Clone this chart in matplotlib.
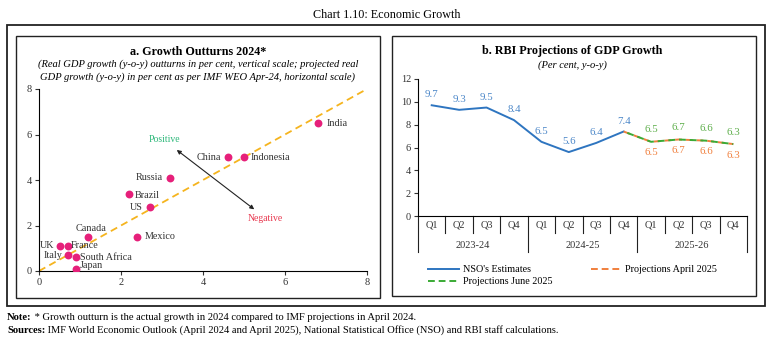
import matplotlib
matplotlib.use('Agg')
import matplotlib.pyplot as plt
from matplotlib.patches import Rectangle
from matplotlib.lines import Line2D
import matplotlib.transforms as mtransforms

plt.rcParams['font.family'] = ['Liberation Serif', 'DejaVu Serif']

# ---- panel a data: IMF projection (x) vs actual outturn (y) ----
countries = ['India', 'China', 'Indonesia', 'Russia', 'Brazil', 'US', 'Mexico',
             'Canada', 'UK', 'France', 'Italy', 'South Africa', 'Japan']
proj_2024 = [6.8, 4.6, 5.0, 3.2, 2.2, 2.7, 2.4, 1.2, 0.5, 0.7, 0.7, 0.9, 0.9]
actual_2024 = [6.5, 5.0, 5.0, 4.1, 3.4, 2.8, 1.5, 1.5, 1.1, 1.1, 0.7, 0.6, 0.1]

# ---- panel b data ----
quarters = ['Q1', 'Q2', 'Q3', 'Q4'] * 3
years = ['2023-24', '2024-25', '2025-26']
nso = [9.7, 9.3, 9.5, 8.4, 6.5, 5.6, 6.4, 7.4]
proj_apr25 = [7.4, 6.5, 6.7, 6.6, 6.3]
proj_jun25 = [7.4, 6.5, 6.7, 6.6, 6.3]

W, H = 774, 340
fig = plt.figure(figsize=(W / 100, H / 100), dpi=100)

def fx(px):
    return px / W

def fy(py):
    return 1 - py / H

def frame(x0, y0, x1, y1, lw=1.0):
    fig.patches.append(Rectangle((fx(x0), fy(y1)), fx(x1) - fx(x0), fy(y0) - fy(y1),
                                 transform=fig.transFigure, fill=False,
                                 edgecolor='#222222', lw=lw))

frame(7, 25, 765, 306, lw=1.3)
frame(16, 36, 380, 298)
frame(392, 36, 756, 296)

fig.text(0.5, fy(15), 'Chart 1.10: Economic Growth', ha='center', va='center', fontsize=8.7)

# ================= panel a =================
axa = fig.add_axes([fx(39), fy(271), fx(367) - fx(39), fy(89) - fy(271)])
axa.plot([0, 8], [0, 8], ls=(0, (4, 2.5)), color='#F5B41E', lw=1.3, zorder=1)
axa.scatter(proj_2024, actual_2024, s=32, color='#E6207A', zorder=3, lw=0)

# label offsets (points)
offsets = {
    'India': (6, 0, 'left'), 'China': (-5, 0, 'right'), 'Indonesia': (5, 0, 'left'),
    'Russia': (-5, 0, 'right'), 'Brazil': (4, -1.5, 'left'), 'US': (-5, 0, 'right'),
    'Mexico': (5, 0, 'left'), 'Canada': (2, 6, 'center'), 'UK': (-4, 0, 'right'),
    'France': (2, 0, 'left'), 'Italy': (-4, 0, 'right'), 'South Africa': (3, 0, 'left'),
    'Japan': (3, 2.5, 'left'),
}
for c, xv, yv in zip(countries, proj_2024, actual_2024):
    dx, dy, ha = offsets[c]
    axa.annotate(c, (xv, yv), xytext=(dx, dy), textcoords='offset points',
                 ha=ha, va='center', fontsize=7.3, color='#333333')

axa.annotate('', xy=(3.36, 5.32), xytext=(5.25, 2.71),
             arrowprops=dict(arrowstyle='<|-|>', color='#222222', lw=0.8,
                             mutation_scale=6, shrinkA=0, shrinkB=0))
axa.text(3.05, 5.76, 'Positive', color='#2DB87A', fontsize=7, ha='center', va='center')
axa.text(5.53, 2.3, 'Negative', color='#E8384F', fontsize=7, ha='center', va='center')

axa.set_xlim(0, 8)
axa.set_ylim(0, 8)
axa.set_xticks([0, 2, 4, 6, 8])
axa.set_yticks([0, 2, 4, 6, 8])
for s in ['top', 'right']:
    axa.spines[s].set_visible(False)
for s in ['left', 'bottom']:
    axa.spines[s].set_linewidth(0.8)
axa.tick_params(labelsize=7.5, length=3, width=0.8, colors='#333333', pad=2)
axa.patch.set_alpha(0)

fig.text(fx(198), fy(52), 'a. Growth Outturns 2024*', ha='center', va='center',
         fontsize=8.7, fontweight='bold')
fig.text(fx(198), fy(64.5), '(Real GDP growth (y-o-y) outturns in per cent, vertical scale; projected real',
         ha='center', va='center', fontsize=7.6, style='italic')
fig.text(fx(198), fy(77), 'GDP growth (y-o-y) in per cent as per IMF WEO Apr-24, horizontal scale)',
         ha='center', va='center', fontsize=7.6, style='italic')

# ================= panel b =================
axb = fig.add_axes([fx(418), fy(216), fx(747) - fx(418), fy(79) - fy(216)])
xs_nso = list(range(len(nso)))
xs_proj = list(range(len(nso) - 1, len(nso) - 1 + len(proj_apr25)))

blue, orange, green = '#2E75C0', '#F07F3C', '#3AAA35'
axb.plot(xs_nso, nso, color=blue, lw=1.4)
axb.plot(xs_proj, proj_apr25, color=orange, lw=1.4, ls=(0, (3.5, 2)))
axb.plot(xs_proj, proj_jun25, color=green, lw=1.4, ls=(3.5, (3.5, 2)))

for xv, yv in zip(xs_nso, nso):
    axb.annotate(f'{yv:.1f}', (xv, yv), xytext=(0, 7.5), textcoords='offset points',
                 ha='center', va='center', fontsize=7.8, color='#4A86C8')
for xv, yv in zip(xs_proj[1:], proj_jun25[1:]):
    axb.annotate(f'{yv:.1f}', (xv, yv), xytext=(0, 8.5), textcoords='offset points',
                 ha='center', va='center', fontsize=7.8, color='#5DAE4A')
for xv, yv in zip(xs_proj[1:], proj_apr25[1:]):
    axb.annotate(f'{yv:.1f}', (xv, yv), xytext=(0, -8), textcoords='offset points',
                 ha='center', va='center', fontsize=7.8, color=orange)

axb.set_xlim(-0.5, len(quarters) - 0.5)
axb.set_ylim(0, 12)
axb.set_yticks(range(0, 13, 2))
axb.set_xticks([])
for s in ['top', 'right']:
    axb.spines[s].set_visible(False)
for s in ['left', 'bottom']:
    axb.spines[s].set_linewidth(0.8)
axb.tick_params(axis='y', labelsize=7.5, length=3, width=0.8, colors='#333333', pad=2)

# multi-level category axis
trans = mtransforms.blended_transform_factory(axb.transData, axb.transAxes)
ah = 216 - 79
q_depth = -17 / ah
y_depth = -36 / ah
for i in range(len(quarters) + 1):
    b = i - 0.5
    depth = y_depth if i % 4 == 0 else q_depth
    axb.plot([b, b], [0, depth], color='#222222', lw=0.8, transform=trans, clip_on=False)
for i, q in enumerate(quarters):
    axb.text(i, -9 / ah, q, transform=trans, ha='center', va='center', fontsize=7.5, color='#333333')
for j, yr in enumerate(years):
    axb.text(4 * j + 1.5, -29 / ah, yr, transform=trans, ha='center', va='center',
             fontsize=7.5, color='#333333')

handles = [Line2D([], [], color=blue, lw=1.4),
           Line2D([], [], color=green, lw=1.4, ls=(0, (3.5, 2))),
           Line2D([], [], color=orange, lw=1.4, ls=(0, (3.5, 2)))]
labels = ["NSO's Estimates", 'Projections June 2025', 'Projections April 2025']
fig.legend(handles, labels, ncol=2, loc='upper left', bbox_to_anchor=(fx(421), fy(258)),
           frameon=False, fontsize=7.3, handlelength=3, handletextpad=0.4,
           columnspacing=3.8, labelspacing=0.3, borderpad=0.2)

fig.text(fx(572), fy(51), 'b. RBI Projections of GDP Growth', ha='center', va='center',
         fontsize=8.7, fontweight='bold')
fig.text(fx(572), fy(65), '(Per cent, y-o-y)', ha='center', va='center',
         fontsize=7.6, style='italic')

# ---- notes (bold lead-in, then regular text right after it) ----
notes = [('Note:', ' * Growth outturn is the actual growth in 2024 compared to IMF projections in April 2024.', 318),
         ('Sources:', ' IMF World Economic Outlook (April 2024 and April 2025), National Statistical Office (NSO) and RBI staff calculations.', 330.5)]
fig.canvas.draw()
r = fig.canvas.get_renderer()
for head, body, py in notes:
    t = fig.text(fx(7), fy(py), head, ha='left', va='center', fontsize=7.6, fontweight='bold')
    bb = t.get_window_extent(r).transformed(fig.transFigure.inverted())
    fig.text(bb.x1, fy(py), body, ha='left', va='center', fontsize=7.6)

fig.savefig('out.png', dpi=100)
